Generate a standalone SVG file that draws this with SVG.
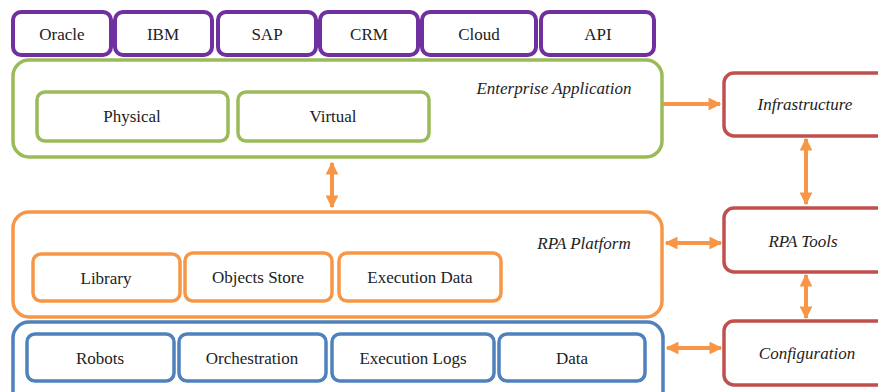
<svg xmlns="http://www.w3.org/2000/svg" width="878" height="392" viewBox="0 0 878 392">
<defs>
<style>
text{font-family:"Liberation Serif","Times New Roman",Tinos,"Noto Serif","DejaVu Serif",Times,Georgia,serif;font-size:17px;fill:#222;text-anchor:middle}
.t{font-style:italic}
.p{fill:#fff;stroke:#7030A0;stroke-width:4}
.g{fill:#fff;stroke:#9BBB59;stroke-width:3.5}
.o{fill:#fff;stroke:#F79646;stroke-width:3.5}
.b{fill:#fff;stroke:#4F81BD;stroke-width:3.5}
.r{fill:#fff;stroke:#C0504D;stroke-width:3.5}
.c{stroke:#F79646;stroke-width:4;fill:none}
</style>
<marker id="ah" viewBox="0 0 10 10" refX="9" refY="5" markerWidth="3.2" markerHeight="3.2" orient="auto-start-reverse" markerUnits="strokeWidth">
<path d="M0,0 L10,5 L0,10 Z" fill="#F79646"/>
</marker>
</defs>
<rect width="878" height="392" fill="#fff"/>
<g id="oracle"><rect class="p" x="13" y="12" width="98" height="43" rx="8"/><text x="62" y="40">Oracle</text></g>
<g id="ibm"><rect class="p" x="115" y="12" width="97" height="43" rx="8"/><text x="163" y="40">IBM</text></g>
<g id="sap"><rect class="p" x="218" y="12" width="98" height="43" rx="8"/><text x="267" y="40">SAP</text></g>
<g id="crm"><rect class="p" x="320" y="12" width="98" height="43" rx="8"/><text x="369" y="40">CRM</text></g>
<g id="cloud"><rect class="p" x="422" y="12" width="114" height="43" rx="8"/><text x="479" y="40">Cloud</text></g>
<g id="api"><rect class="p" x="541" y="12" width="113" height="43" rx="8"/><text x="598" y="40">API</text></g>

<g id="enterprise"><rect class="g" x="13" y="60" width="649" height="97" rx="16"/><text class="t" x="554" y="94">Enterprise Application</text></g>
<g id="physical"><rect class="g" x="37" y="92" width="191" height="49" rx="8"/><text x="132" y="122">Physical</text></g>
<g id="virtual"><rect class="g" x="238" y="92" width="191" height="49" rx="8"/><text x="333" y="122">Virtual</text></g>

<g id="rpaplatform"><rect class="o" x="13" y="212" width="649" height="105" rx="16"/><text class="t" x="584" y="249">RPA Platform</text></g>
<g id="library"><rect class="o" x="33" y="254" width="147" height="47" rx="8"/><text x="106" y="284">Library</text></g>
<g id="objects"><rect class="o" x="185" y="253" width="147" height="48" rx="8"/><text x="258" y="283">Objects Store</text></g>
<g id="execdata"><rect class="o" x="339" y="253" width="162" height="48" rx="8"/><text x="420" y="283">Execution Data</text></g>

<g id="bottom"><rect class="b" x="13" y="322" width="650" height="90" rx="16"/></g>
<g id="robots"><rect class="b" x="27" y="334" width="147" height="47" rx="8"/><text x="100" y="364">Robots</text></g>
<g id="orchestration"><rect class="b" x="179" y="334" width="147" height="47" rx="8"/><text x="252" y="364">Orchestration</text></g>
<g id="execlogs"><rect class="b" x="332" y="334" width="162" height="47" rx="8"/><text x="413" y="364">Execution Logs</text></g>
<g id="data"><rect class="b" x="499" y="334" width="146" height="47" rx="8"/><text x="572" y="364">Data</text></g>

<g id="infrastructure"><rect class="r" x="724" y="73" width="170" height="63" rx="10"/><text class="t" x="805" y="110">Infrastructure</text></g>
<g id="rpatools"><rect class="r" x="724" y="208" width="170" height="64" rx="10"/><text class="t" x="803" y="247">RPA Tools</text></g>
<g id="configuration"><rect class="r" x="724" y="321" width="170" height="64" rx="10"/><text class="t" x="807" y="359">Configuration</text></g>

<g id="connectors">
<line class="c" x1="332" y1="163" x2="332" y2="207" marker-start="url(#ah)" marker-end="url(#ah)"/>
<line class="c" x1="663" y1="104" x2="720" y2="104" marker-end="url(#ah)"/>
<line class="c" x1="806" y1="139" x2="806" y2="204" marker-start="url(#ah)" marker-end="url(#ah)"/>
<line class="c" x1="666" y1="243" x2="721" y2="243" marker-start="url(#ah)" marker-end="url(#ah)"/>
<line class="c" x1="806" y1="275" x2="806" y2="318" marker-start="url(#ah)" marker-end="url(#ah)"/>
<line class="c" x1="667" y1="348" x2="721" y2="348" marker-start="url(#ah)" marker-end="url(#ah)"/>
</g>
</svg>
